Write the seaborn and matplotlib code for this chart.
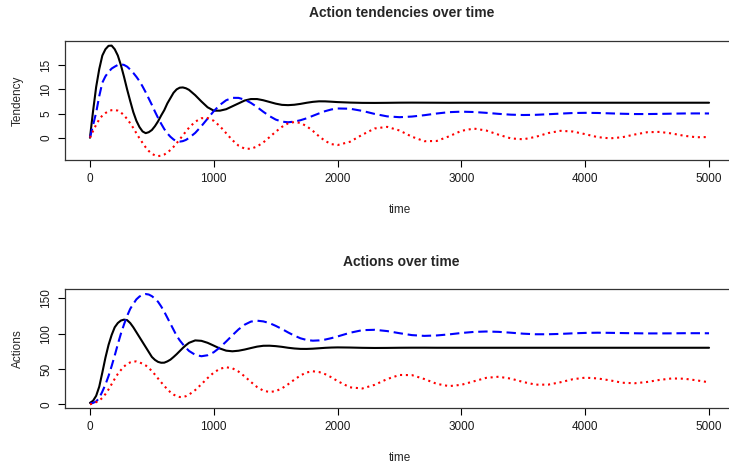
import numpy as np
import pandas as pd
import matplotlib
matplotlib.use("Agg")
import matplotlib.pyplot as plt
import seaborn as sns

# ---- data ----
time = list(range(0, 800, 25)) + list(range(800, 2001, 50)) + list(range(2100, 5001, 100))

tend_black = [0, 5.5, 10.5, 14.2, 17.0, 18.3, 19.0, 19.05, 18.3, 17.0, 15.0, 12.6, 10.0, 7.6,
              5.3, 3.5, 2.2, 1.3, 0.95, 1.15, 1.6, 2.4, 3.4, 4.6, 5.7, 7.1, 8.2, 9.3, 10.0,
              10.35, 10.4, 10.23,
              9.9, 8.8, 7.5, 6.3, 5.6, 5.6, 5.9, 6.5, 7.1, 7.7, 8.0, 8.0, 7.75, 7.4, 7.05, 6.8,
              6.74, 6.82, 7.0, 7.23, 7.42, 7.53, 7.52, 7.45, 7.37,
              7.27, 7.21, 7.2, 7.22, 7.25, 7.26, 7.25, 7.24, 7.23, 7.24, 7.24, 7.24, 7.24, 7.24,
              7.24, 7.24, 7.24, 7.24, 7.24, 7.24, 7.24, 7.24, 7.24, 7.24, 7.24, 7.24, 7.24, 7.24,
              7.24, 7.24]
tend_blue = [0, 2.6, 5.2, 8.6, 11.4, 12.7, 13.6, 14.3, 14.7, 15.05, 15.2, 15.05, 14.7, 14.1,
             13.4, 12.6, 11.7, 10.6, 9.4, 8.1, 6.8, 5.4, 4.1, 2.9, 1.8, 0.9, 0.2, -0.35, -0.75,
             -0.8, -0.7, -0.45,
             -0.04, 1.0, 2.4, 3.95, 5.5, 6.8, 7.75, 8.25, 8.24, 7.87, 7.2, 6.34, 5.37, 4.48, 3.76,
             3.33, 3.2, 3.33, 3.62, 4.02, 4.53, 5.03, 5.5, 5.85, 6.05,
             6.0, 5.55, 4.92, 4.42, 4.25, 4.38, 4.66, 5.01, 5.29, 5.39, 5.32, 5.15, 4.94, 4.77,
             4.7, 4.74, 4.86, 4.99, 5.11, 5.15, 5.12, 5.04, 4.96, 4.9, 4.9, 4.93, 4.98, 5.02,
             5.03, 5.02]
tend_red = [0, 1.4, 2.7, 3.8, 4.6, 5.1, 5.5, 5.7, 5.75, 5.6, 5.22, 4.65, 3.88, 3.0, 2.02, 0.93,
            -0.12, -1.07, -1.98, -2.74, -3.31, -3.65, -3.79, -3.71, -3.47, -3.08, -2.52, -1.88,
            -1.13, -0.34, 0.5, 1.29,
            2.08, 3.32, 4.03, 4.09, 3.5, 2.37, 0.94, -0.49, -1.63, -2.26, -2.28, -1.8, -0.97,
            0.12, 1.24, 2.24, 2.97, 3.25, 3.06, 2.39, 1.42, 0.3, -0.67, -1.32, -1.51,
            -0.83, 0.63, 1.92, 2.25, 1.5, 0.22, -0.71, -0.67, 0.29, 1.43, 1.9, 1.5, 0.63, -0.14,
            -0.32, 0.18, 0.96, 1.43, 1.29, 0.74, 0.13, -0.13, 0.11, 0.67, 1.14, 1.21, 0.88, 0.4,
            0.1, 0.15]

act_black = [2, 5, 12, 25, 45, 66, 84, 98, 109, 115, 118.5, 119.8, 119.1, 115, 109, 102, 95,
             88, 81, 74, 67, 62.8, 60, 58.8, 58.9, 60.7, 63.2, 66.9, 70.9, 75.3, 79.7, 83.6,
             87, 90.4, 89.8, 87, 83, 78.9, 75.9, 75, 75.8, 77.5, 79.6, 81.6, 82.8, 82.9, 82.3,
             81.3, 80.0, 79.0, 78.4, 78.35, 78.7, 79.3, 79.9, 80.3, 80.5,
             80.3, 79.9, 79.7, 79.8, 80.0, 80.1, 80.1, 80.0, 80.0, 80.0, 80.0, 80.0, 80.0, 80.0,
             80.0, 80.0, 80.0, 80.0, 80.0, 80.0, 80.0, 80.0, 80.0, 80.0, 80.0, 80.0, 80.0, 80.0,
             80.0, 80.0]
act_blue = [1, 2, 4, 9, 18, 28, 40, 54, 69, 85, 100, 113, 125, 135, 142, 148.5, 152.5, 155,
            156, 155.3, 153, 149.5, 145, 138.5, 131, 122.5, 114, 105.5, 97, 90.5, 85, 80,
            75.5, 70, 68, 69.4, 73.7, 80.5, 88.8, 97.6, 106, 112.7, 117, 118.3, 117.3, 114.9,
            111, 106.6, 101.7, 97.2, 93.4, 91, 90, 90.4, 91.6, 93.6, 96,
            101.2, 104.9, 105.4, 103.6, 100.6, 97.9, 96.8, 97.4, 98.9, 100.9, 102.4, 103, 102.5,
            101.3, 99.9, 99.1, 99.1, 99.6, 100.4, 101, 101.3, 101.1, 100.8, 100.5, 100.3, 100.3,
            100.4, 100.6, 100.6, 100.5]
act_red = [0, 1.2, 3, 5.5, 9, 14.5, 21, 28.5, 36, 43, 48.5, 53.5, 57, 59.3, 60.7, 60.6, 59.2,
           57.5, 55, 51.5, 47, 42, 36.5, 31.2, 26, 21.3, 17, 13.8, 11.5, 10.3, 10.3, 11.5,
           13.7, 20.1, 28.4, 37.1, 44.9, 50.3, 52.4, 51, 46.3, 39.4, 31.6, 24.4, 19.3, 17.4,
           18.6, 22.5, 28.3, 34.8, 40.8, 45.1, 46.7, 45.7, 42.6, 38.2, 32.8,
           24, 22.4, 27.6, 35.7, 41.5, 41.3, 35.8, 29, 25.7, 27.6, 32.5, 37.4, 39, 36.3, 31.5,
           27.8, 27.8, 31.2, 35.5, 37.7, 36.6, 33.9, 30.5, 29.8, 31.6, 34.5, 36.6, 36.2, 33.9,
           31.1]

series_names = ["A", "B", "C"]
top_ticks = [0, 5, 10, 15]
bot_ticks = [0, 50, 100, 150]
x_ticks = [0, 1000, 2000, 3000, 4000, 5000]

# ---- style ----
sns.set_style("ticks")
plt.rcParams["font.family"] = ["Liberation Sans", "DejaVu Sans"]

fig = plt.figure(figsize=(7.29, 4.66), dpi=100)
W, H = 729.0, 466.0

def make_df(vals):
    rows = []
    for name, v in zip(series_names, vals):
        for t, y in zip(time, v):
            rows.append({"time": t, "value": y, "series": name})
    return pd.DataFrame(rows)

palette = {"A": "black", "B": "#0000FF", "C": "#FF0000"}
dashes = {"A": "", "B": (4.5, 2.3), "C": (1, 1.8)}

panels = [
    dict(box=(65.2, 41, 733.8, 160), vals=[tend_black, tend_blue, tend_red],
         ylim=(-4.6, 20.0), yticks=top_ticks, ylabel="Tendency",
         title="Action tendencies over time", title_y=13, xlab_y=210),
    dict(box=(65.2, 289.3, 733.8, 407.7), vals=[act_black, act_blue, act_red],
         ylim=(-4.8, 162.7), yticks=bot_ticks, ylabel="Actions",
         title="Actions over time", title_y=262, xlab_y=458),
]

for p in panels:
    x0, y0, x1, y1 = p["box"]
    ax = fig.add_axes([x0 / W, 1 - y1 / H, (x1 - x0) / W, (y1 - y0) / H])
    df = make_df(p["vals"])
    sns.lineplot(data=df, x="time", y="value", hue="series", style="series",
                 palette=palette, dashes=dashes, linewidth=1.5, legend=False,
                 ax=ax, estimator=None, sort=False)
    ax.set_xlim(-200, 5200)
    ax.set_ylim(*p["ylim"])
    ax.set_xticks(x_ticks)
    ax.set_yticks(p["yticks"])
    ax.set_yticklabels([str(v) for v in p["yticks"]], rotation=90, va="center")
    ax.tick_params(axis="both", direction="out", length=5, width=0.8,
                   labelsize=8.5, pad=4.5, color="black", labelcolor="#1a1a1a")
    for s in ax.spines.values():
        s.set_visible(True)
        s.set_linewidth(0.9)
        s.set_color("#333333")
    ax.set_xlabel("time", fontsize=8.5, va="center")
    ax.xaxis.set_label_coords(0.5, -(p["xlab_y"] - y1) / (y1 - y0))
    ax.set_ylabel(p["ylabel"], fontsize=8.5, va="center")
    ax.yaxis.set_label_coords(-(x0 - 18) / (x1 - x0), 0.5)
    fig.text((x0 + x1) / 2 / W + 0.003, 1 - p["title_y"] / H, p["title"],
             ha="center", va="center", fontsize=10, fontweight="bold")

fig.savefig("out.png", dpi=100)
